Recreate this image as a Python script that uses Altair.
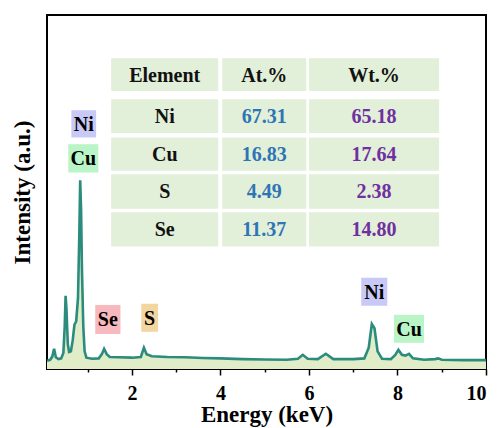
import altair as alt
import pandas as pd

# ---- EDS spectrum ----
energy = [0.08, 0.15, 0.20, 0.24, 0.28, 0.34, 0.40, 0.45, 0.48, 0.50, 0.52, 0.55, 0.58,
          0.62, 0.66, 0.70, 0.74, 0.78, 0.81, 0.83, 0.85, 0.87, 0.90, 0.93, 0.97, 1.10,
          1.25, 1.32, 1.37, 1.43, 1.50, 1.70, 2.00, 2.20, 2.27, 2.33, 2.45, 2.80, 3.20,
          3.60, 4.00, 4.50, 5.00, 5.50, 5.75, 5.86, 5.97, 6.20, 6.38, 6.55, 7.00, 7.25,
          7.35, 7.42, 7.48, 7.55, 7.65, 7.85, 7.95, 8.02, 8.10, 8.18, 8.26, 8.35, 8.60,
          8.85, 8.92, 9.00, 9.50, 10.00]
intensity = [2.3, 2.6, 3.5, 5.7, 3.3, 2.8, 3.0, 4.5, 12.0, 20.7, 17.0, 7.0, 4.8,
             5.0, 8.0, 12.5, 13.5, 20.0, 38.0, 53.3, 45.0, 28.0, 12.0, 5.0, 3.2, 2.9,
             3.0, 4.2, 5.7, 4.2, 3.4, 3.3, 3.2, 3.4, 6.0, 4.2, 3.6, 3.4, 3.3,
             3.1, 3.0, 2.8, 2.7, 2.6, 2.9, 4.0, 2.9, 2.8, 4.3, 2.8, 2.8, 3.0,
             6.0, 12.7, 11.5, 5.0, 2.9, 2.8, 4.0, 5.4, 4.0, 3.8, 4.3, 3.0, 2.6,
             2.8, 3.0, 2.6, 2.5, 2.5]

# ---- peak labels ----
lab_text = ["Ni", "Cu", "Se", "S", "Ni", "Cu"]
lab_x1 = [0.63, 0.56, 1.17, 2.21, 7.18, 7.92]
lab_x2 = [1.19, 1.24, 1.74, 2.59, 7.77, 8.60]
lab_y1 = [65.4, 55.5, 9.9, 10.5, 17.9, 7.4]
lab_y2 = [73.1, 63.5, 18.1, 18.4, 25.8, 15.3]
lab_fill = ["#c9c9f7", "#b9f5c6", "#f7b9bd", "#f2d59f", "#c9c9f7", "#b9f5c6"]

# ---- composition table ----
tbl_header = ["Element", "At.%", "Wt.%"]
tbl_elements = ["Ni", "Cu", "S", "Se"]
tbl_at = ["67.31", "16.83", "4.49", "11.37"]
tbl_wt = ["65.18", "17.64", "2.38", "14.80"]
col_x1 = [1.53, 4.04, 6.00]
col_x2 = [3.95, 5.94, 8.94]
row_y1 = [78.5, 66.7, 56.0, 45.3, 34.6]
row_y2 = [87.8, 76.2, 65.4, 55.0, 44.3]
col_colors = ["#111111", "#2e75b6", "#7030a0"]

FONT = "Liberation Serif"

spec = pd.DataFrame({"energy": energy, "intensity": intensity})

labels = pd.DataFrame({
    "text": lab_text, "x1": lab_x1, "x2": lab_x2, "y1": lab_y1, "y2": lab_y2,
    "fill": lab_fill,
})
labels["xc"] = (labels["x1"] + labels["x2"]) / 2
labels["yc"] = (labels["y1"] + labels["y2"]) / 2

cells = []
rows = [tbl_header] + [[e, a, w] for e, a, w in zip(tbl_elements, tbl_at, tbl_wt)]
for r, row in enumerate(rows):
    for c, txt in enumerate(row):
        cells.append({
            "text": txt,
            "x1": col_x1[c], "x2": col_x2[c],
            "y1": row_y1[r], "y2": row_y2[r],
            "xc": (col_x1[c] + col_x2[c]) / 2,
            "yc": (row_y1[r] + row_y2[r]) / 2,
            "color": col_colors[0] if r == 0 else col_colors[c],
        })
table = pd.DataFrame(cells)

xscale = alt.Scale(domain=[0.08, 10], nice=False, zero=False)
yscale = alt.Scale(domain=[0, 100], nice=False, zero=True)

xaxis = alt.Axis(
    values=[1, 2, 3, 4, 5, 6, 7, 8, 9, 10],
    labelExpr="datum.value % 2 == 0 ? datum.label : ''",
    tickSize={"condition": {"test": "datum.value % 2 == 1", "value": 3}, "value": 6},
    tickColor="black", tickWidth=1.5, domain=False, grid=False,
    labelFont=FONT, labelFontSize=20, labelFontWeight="bold", labelColor="black",
    labelPadding=8, titleFont=FONT, titleFontSize=23, titleFontWeight="bold",
    titleColor="black", titlePadding=0,
)
yaxis = alt.Axis(
    ticks=False, labels=False, domain=False, grid=False,
    titleFont=FONT, titleFontSize=23, titleFontWeight="bold", titleColor="black",
    titlePadding=13,
)


def X(field):
    return alt.X(field, type="quantitative", scale=xscale, axis=xaxis, title="Energy (keV)")


def Y(field):
    return alt.Y(field, type="quantitative", scale=yscale, axis=yaxis, title="Intensity (a.u.)")


area = alt.Chart(spec).mark_area(color="#e0edc8", clip=True).encode(
    x=X("energy"), y=Y("intensity")
)
line = alt.Chart(spec).mark_line(color="#2b8c7d", strokeWidth=2.6, clip=True).encode(
    x=X("energy"), y=Y("intensity")
)

lab_boxes = alt.Chart(labels).mark_rect().encode(
    x=X("x1"), x2="x2", y=Y("y1"), y2="y2",
    fill=alt.Fill("fill:N", scale=None),
)
lab_texts = alt.Chart(labels).mark_text(
    font=FONT, fontSize=20, fontWeight="bold", color="black", baseline="middle", dy=1
).encode(x=X("xc"), y=Y("yc"), text="text:N")

tbl_boxes = alt.Chart(table).mark_rect(color="#e2efd9").encode(
    x=X("x1"), x2="x2", y=Y("y1"), y2="y2"
)
tbl_texts = alt.Chart(table).mark_text(
    font=FONT, fontSize=20, fontWeight="bold", baseline="middle", dy=1
).encode(
    x=X("xc"), y=Y("yc"), text="text:N",
    color=alt.Color("color:N", scale=None),
)

chart = alt.layer(area, line, lab_boxes, lab_texts, tbl_boxes, tbl_texts).properties(
    width=439, height=354,
    autosize=alt.AutoSizeParams(type="none"),
    padding={"left": 47, "top": 15, "right": 15, "bottom": 59},
    background="white",
).configure_view(stroke="black", strokeWidth=2)

chart.save("out.html", embed_options={"renderer": "svg", "actions": False})
